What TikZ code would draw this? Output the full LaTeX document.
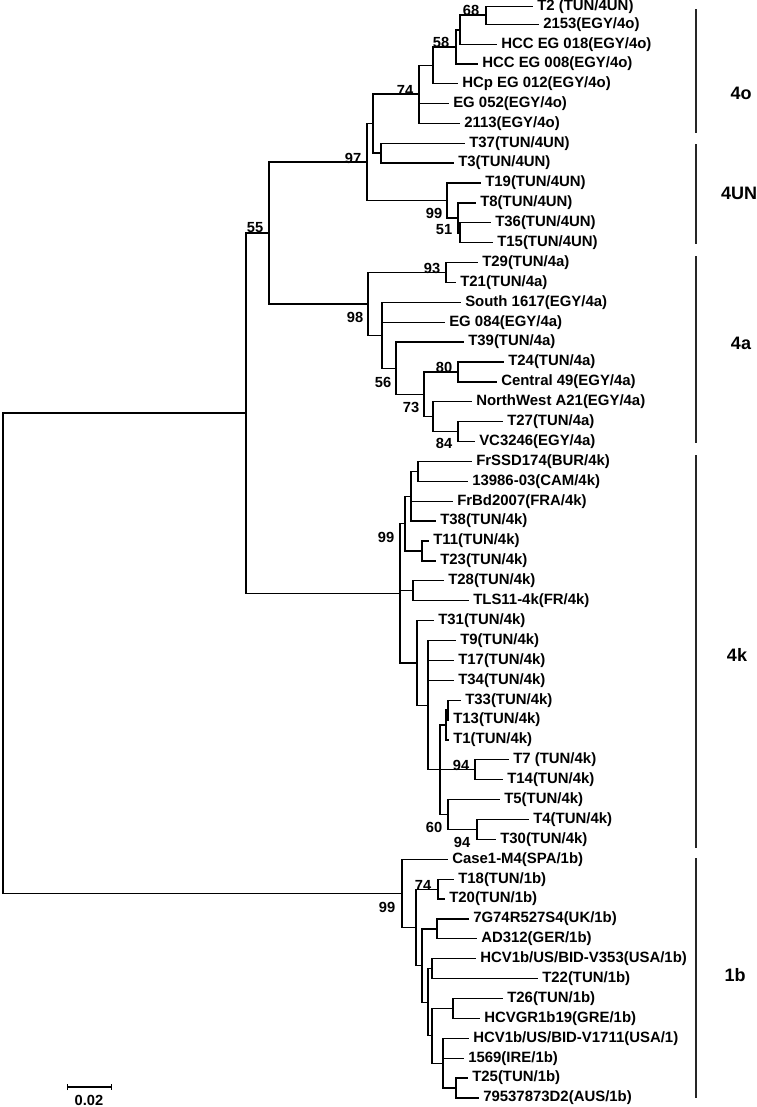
\documentclass[tikz,border=0pt]{standalone}
\usepackage{fontspec}
\setmainfont{Liberation Sans}
\usepackage{tikz}
\usetikzlibrary{arrows.meta}
\tikzset{
  br/.style={line width=1pt,black},
  leaf/.style={anchor=west,inner xsep=3pt,inner ysep=0pt,font=\fontsize{11.2}{13}\selectfont\bfseries},
  boot/.style={inner sep=0pt,font=\fontsize{11}{12}\selectfont\bfseries},
  grp/.style={line width=0.9pt,black!85},
  grplab/.style={inner sep=0pt,font=\fontsize{13.5}{16}\selectfont\bfseries},
  % scale bar with short end ticks
  scalebar/.style={br,{Bar[width=4.5pt]}-{Bar[width=4.5pt]}},
}
\newcommand{\Joints}{%
  \coordinate (r) at (3,653);
  \coordinate (g4) at (246,413);    \coordinate (g1b) at (402,893.4);
  \coordinate (k55) at (269,233);   \coordinate (k97) at (367,162);
  \coordinate (ka) at (373,123.5);  \coordinate (k74) at (419,94);
  \coordinate (k58) at (433,65.5);  \coordinate (ky) at (456,47);
  \coordinate (kx) at (460,30);     \coordinate (k68) at (486,15);
  \coordinate (kt37) at (381,153);  \coordinate (k99a) at (447,200.5);
  \coordinate (kt8) at (458,218);   \coordinate (k51) at (460,233);
  \coordinate (k98) at (368,304);   \coordinate (k93) at (446,272.5);
  \coordinate (kc) at (382,335.3);  \coordinate (kd) at (396,368.2);
  \coordinate (ke) at (424,394.3);  \coordinate (k80) at (458,372);
  \coordinate (k84p) at (433,416.7);\coordinate (k84) at (458,431.6);
  \coordinate (k4k) at (400,593.3); \coordinate (kf) at (405,523.6);
  \coordinate (kg) at (411,496.3);  \coordinate (ki) at (418,471.5);
  \coordinate (kh) at (422,551);    \coordinate (kj) at (413,590.8);
  \coordinate (kk) at (417,662.9);  \coordinate (kl) at (428,705.2);
  \coordinate (km) at (440,769.8);  \coordinate (kn) at (446,725);
  \coordinate (kn2) at (448,710.1); \coordinate (k94) at (475,769.8);
  \coordinate (k60) at (448,814.6); \coordinate (k94b) at (477,829.5);
  \coordinate (k74b) at (438,889.2);\coordinate (kp) at (416,927.4);
  \coordinate (kq) at (422,965.6);  \coordinate (kr) at (437,928.9);
  \coordinate (ks) at (428,1002.3); \coordinate (kt) at (432,968.7);
  \coordinate (kw) at (432,1035.8); \coordinate (k26) at (453,1008.5);
  \coordinate (ku) at (443,1063.2); \coordinate (kv) at (456,1088);
}
\newcommand{\Branches}{%
  \foreach \p/\c in {r/g4,r/g1b,g4/k55,g4/k4k,k55/k97,k55/k98,k97/ka,k97/k99a,
    ka/k74,ka/kt37,k74/k58,k74/l6.west,k74/l7.west,k58/ky,k58/l5.west,
    ky/kx,ky/l4.west,kx/k68,kx/l3.west,k68/l1.west,k68/l2.west,
    kt37/l8.west,kt37/l9.west,k99a/l10.west,k99a/kt8,kt8/l11.west,kt8/k51,
    k51/l12.west,k51/l13.west}
    \draw[br] (\p) |- (\c);
  \foreach \p/\c in {k98/k93,k98/kc,k93/l14.west,k93/l15.west,kc/l16.west,kc/l17.west,
    kc/kd,kd/l18.west,kd/ke,ke/k80,ke/k84p,k80/l19.west,k80/l20.west,
    k84p/l21.west,k84p/k84,k84/l22.west,k84/l23.west}
    \draw[br] (\p) |- (\c);
  \foreach \p/\c in {k4k/kf,k4k/kj,k4k/kk,kf/kg,kf/kh,kg/ki,kg/l26.west,kg/l27.west,
    ki/l24.west,ki/l25.west,kh/l28.west,kh/l29.west,kj/l30.west,kj/l31.west,
    kk/l32.west,kk/kl,kl/l33.west,kl/l34.west,kl/l35.west,kl/km,
    km/kn,km/k94,km/k60,kn/kn2,kn/l38.west,kn2/l36.west,kn2/l37.west,
    k94/l39.west,k94/l40.west,k60/l41.west,k60/k94b,k94b/l42.west,k94b/l43.west}
    \draw[br] (\p) |- (\c);
  \foreach \p/\c in {g1b/l44.west,g1b/kp,kp/k74b,kp/kq,k74b/l45.west,k74b/l46.west,
    kq/kr,kq/ks,kr/l47.west,kr/l48.west,ks/kt,ks/kw,kt/l49.west,kt/l50.west,
    kw/k26,kw/ku,k26/l51.west,k26/l52.west,ku/l53.west,ku/l54.west,ku/kv,
    kv/l55.west,kv/l56.west}
    \draw[br] (\p) |- (\c);
}

\begin{document}
\begin{tikzpicture}[x=0.75pt,y=-0.75pt]
  \useasboundingbox (0,0) rectangle (757,1107);
  \Joints
  % 4o / 4UN
  \node[leaf] (l1) at (533,6.5){T2 (TUN/4UN)};
  \node[leaf] (l2) at (539,24.5){2153(EGY/4o)};
  \node[leaf] (l3) at (497,44.2){HCC EG 018(EGY/4o)};
  \node[leaf] (l4) at (478,63.9){HCC EG 008(EGY/4o)};
  \node[leaf] (l5) at (458,83.6){HCp EG 012(EGY/4o)};
  \node[leaf] (l6) at (449,103.5){EG 052(EGY/4o)};
  \node[leaf] (l7) at (460,123.3){2113(EGY/4o)};
  \node[leaf] (l8) at (465,143.2){T37(TUN/4UN)};
  \node[leaf] (l9) at (454,163.1){T3(TUN/4UN)};
  \node[leaf] (l10) at (481,183.0){T19(TUN/4UN)};
  \node[leaf] (l11) at (476,202.9){T8(TUN/4UN)};
  \node[leaf] (l12) at (491,222.8){T36(TUN/4UN)};
  \node[leaf] (l13) at (493,242.7){T15(TUN/4UN)};
  % 4a
  \node[leaf] (l14) at (478,262.6){T29(TUN/4a)};
  \node[leaf] (l15) at (456,282.5){T21(TUN/4a)};
  \node[leaf] (l16) at (461,302.4){South 1617(EGY/4a)};
  \node[leaf] (l17) at (445,322.2){EG 084(EGY/4a)};
  \node[leaf] (l18) at (464,342.1){T39(TUN/4a)};
  \node[leaf] (l19) at (504,362.0){T24(TUN/4a)};
  \node[leaf] (l20) at (497,381.9){Central 49(EGY/4a)};
  \node[leaf] (l21) at (472,401.8){NorthWest A21(EGY/4a)};
  \node[leaf] (l22) at (503,421.7){T27(TUN/4a)};
  \node[leaf] (l23) at (475,441.6){VC3246(EGY/4a)};
  % 4k
  \node[leaf] (l24) at (472,461.5){FrSSD174(BUR/4k)};
  \node[leaf] (l25) at (468,481.4){13986-03(CAM/4k)};
  \node[leaf] (l26) at (453,501.3){FrBd2007(FRA/4k)};
  \node[leaf] (l27) at (436,521.1){T38(TUN/4k)};
  \node[leaf] (l28) at (429,541.0){T11(TUN/4k)};
  \node[leaf] (l29) at (436,560.9){T23(TUN/4k)};
  \node[leaf] (l30) at (444,580.8){T28(TUN/4k)};
  \node[leaf] (l31) at (469,600.7){TLS11-4k(FR/4k)};
  \node[leaf] (l32) at (434,620.6){T31(TUN/4k)};
  \node[leaf] (l33) at (456,640.5){T9(TUN/4k)};
  \node[leaf] (l34) at (454,660.4){T17(TUN/4k)};
  \node[leaf] (l35) at (454,680.3){T34(TUN/4k)};
  \node[leaf] (l36) at (461,700.2){T33(TUN/4k)};
  \node[leaf] (l37) at (449,720.0){T13(TUN/4k)};
  \node[leaf] (l38) at (449,739.9){T1(TUN/4k)};
  \node[leaf] (l39) at (509,759.8){T7 (TUN/4k)};
  \node[leaf] (l40) at (503,779.7){T14(TUN/4k)};
  \node[leaf] (l41) at (500,799.6){T5(TUN/4k)};
  \node[leaf] (l42) at (529,819.5){T4(TUN/4k)};
  \node[leaf] (l43) at (496,839.4){T30(TUN/4k)};
  % 1b
  \node[leaf] (l44) at (448,859.3){Case1-M4(SPA/1b)};
  \node[leaf] (l45) at (454,879.2){T18(TUN/1b)};
  \node[leaf] (l46) at (445,899.1){T20(TUN/1b)};
  \node[leaf] (l47) at (469,918.9){7G74R527S4(UK/1b)};
  \node[leaf] (l48) at (477,938.8){AD312(GER/1b)};
  \node[leaf] (l49) at (476,958.7){HCV1b/US/BID-V353(USA/1b)};
  \node[leaf] (l50) at (538,978.6){T22(TUN/1b)};
  \node[leaf] (l51) at (503,998.5){T26(TUN/1b)};
  \node[leaf] (l52) at (480,1018.4){HCVGR1b19(GRE/1b)};
  \node[leaf] (l53) at (469,1038.3){HCV1b/US/BID-V1711(USA/1)};
  \node[leaf] (l54) at (464,1058.2){1569(IRE/1b)};
  \node[leaf] (l55) at (468,1078.1){T25(TUN/1b)};
  \node[leaf] (l56) at (479,1098.0){79537873D2(AUS/1b)};
  \Branches
  % bootstrap values
  \node[boot] (b68) at (471,10){68};   \node[boot] (b58) at (441,42){58};
  \node[boot] (b74) at (405,90){74};   \node[boot] (b97) at (353,158){97};
  \node[boot] (b55) at (255,228){55};  \node[boot] (b99a) at (434,213){99};
  \node[boot] (b51) at (444,230){51};  \node[boot] (b93) at (432,268){93};
  \node[boot] (b98) at (355,317){98};  \node[boot] (b80) at (444,367){80};
  \node[boot] (b56) at (383,382){56};  \node[boot] (b73) at (411,407){73};
  \node[boot] (b84) at (444,443){84};  \node[boot] (b99k) at (386,537){99};
  \node[boot] (b94) at (461,765){94};  \node[boot] (b60) at (434,827){60};
  \node[boot] (b94b) at (462,842){94}; \node[boot] (b74b) at (423,885){74};
  \node[boot] (b99b) at (387,907){99};
  % genotype brackets
  \foreach \a/\b in {9/133,144/244,256/443,455/848,858/1098}
    \draw[grp] (696,\a) -- (696,\b);
  \node[grplab] (s4o) at (741,93){4o};
  \node[grplab] (s4un) at (739,193){4UN};
  \node[grplab] (s4a) at (741,343){4a};
  \node[grplab] (s4k) at (737,655){4k};
  \node[grplab] (s1b) at (735,975){1b};
  % scale
  \coordinate (sb1) at (67,1087); \coordinate (sb2) at (112,1087);
  \draw[scalebar] (sb1) -- (sb2);
  \node[boot] (sbl) at (89,1100){0.02};
\end{tikzpicture}
\end{document}
